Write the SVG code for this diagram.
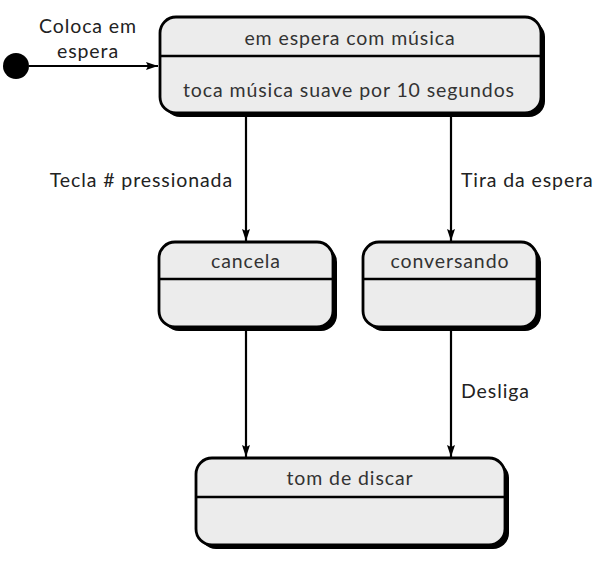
<svg xmlns="http://www.w3.org/2000/svg" width="599" height="568" viewBox="0 0 599 568">
<style>
.sh{fill:#000}
.box{fill:#ececec;stroke:#000;stroke-width:2.8}
.div{stroke:#000;stroke-width:2.5}
.t{font-family:Lato,"Open Sans",sans-serif;font-size:19.5px;letter-spacing:0.9px;fill:#333;text-anchor:middle}
.l{font-family:Lato,"Open Sans",sans-serif;font-size:19.5px;letter-spacing:0.9px;fill:#222}
.c{stroke:#000;stroke-width:2.2;fill:none;marker-end:url(#ah)}
</style>
<defs>
<marker id="ah" viewBox="0 0 12 8" refX="12" refY="4" markerWidth="12" markerHeight="8" markerUnits="userSpaceOnUse" orient="auto">
<path d="M0,0 L12,4 L0,8 L2,4 z" fill="#000"/>
</marker>
</defs>
<g id="initial"><circle cx="16" cy="66" r="13" fill="#000"/></g>
<g id="espera">
<rect class="sh" x="164" y="21" width="381" height="96" rx="16"/>
<rect class="box" x="160" y="17" width="381" height="96" rx="16"/>
<line class="div" x1="160" y1="56" x2="541" y2="56"/>
<text class="t" x="350" y="45">em espera com música</text>
<text class="t" x="349" y="97">toca música suave por 10 segundos</text>
</g>
<g id="cancela">
<rect class="sh" x="163" y="246" width="174" height="85" rx="16"/>
<rect class="box" x="159" y="242" width="174" height="85" rx="16"/>
<line class="div" x1="159" y1="279" x2="333" y2="279"/>
<text class="t" x="246" y="268">cancela</text>
</g>
<g id="conversando">
<rect class="sh" x="367" y="246" width="174" height="85" rx="16"/>
<rect class="box" x="363" y="242" width="174" height="85" rx="16"/>
<line class="div" x1="363" y1="279" x2="537" y2="279"/>
<text class="t" x="450" y="268">conversando</text>
</g>
<g id="tom">
<rect class="sh" x="200" y="462" width="309" height="87" rx="16"/>
<rect class="box" x="196" y="458" width="309" height="87" rx="16"/>
<line class="div" x1="196" y1="497" x2="505" y2="497"/>
<text class="t" x="350" y="485">tom de discar</text>
</g>
<g id="connectors">
<line class="c" x1="29" y1="66" x2="158" y2="66"/>
<line class="c" x1="246" y1="114" x2="246" y2="241"/>
<line class="c" x1="451" y1="114" x2="451" y2="241"/>
<line class="c" x1="246" y1="328" x2="246" y2="457"/>
<line class="c" x1="451" y1="328" x2="451" y2="457"/>
<text class="l" x="88" y="33" text-anchor="middle">Coloca em</text>
<text class="l" x="88" y="58" text-anchor="middle">espera</text>
<text class="l" x="233" y="187" text-anchor="end">Tecla # pressionada</text>
<text class="l" x="461" y="187">Tira da espera</text>
<text class="l" x="461" y="398">Desliga</text>
</g>
</svg>
